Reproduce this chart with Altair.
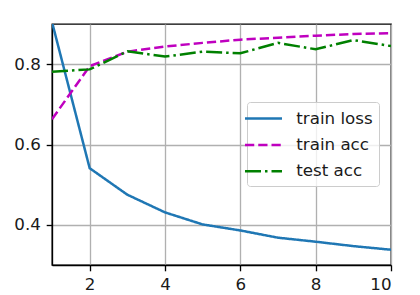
import altair as alt
import pandas as pd

epochs = [1, 2, 3, 4, 5, 6, 7, 8, 9, 10]
train_loss = [0.905, 0.541, 0.475, 0.431, 0.401, 0.386, 0.368, 0.358, 0.347, 0.338]
train_acc = [0.663, 0.795, 0.831, 0.844, 0.853, 0.861, 0.866, 0.871, 0.875, 0.877]
test_acc = [0.781, 0.787, 0.832, 0.819, 0.831, 0.827, 0.853, 0.837, 0.860, 0.845]

series_names = ["train loss", "train acc", "test acc"]
series_colors = ["#1f77b4", "#bf00bf", "#008000"]
series_dashes = [[1, 0], [9.25, 4], [16, 4, 2.5, 4]]
x_ticks = [2, 4, 6, 8, 10]
y_ticks = [0.4, 0.6, 0.8]

rows = []
for name, vals in zip(series_names, [train_loss, train_acc, test_acc]):
    for e, v in zip(epochs, vals):
        rows.append({"epoch": e, "value": v, "series": name})
df = pd.DataFrame(rows)

chart = alt.Chart(df).mark_line(clip=True, strokeWidth=2.5).encode(
    x=alt.X("epoch:Q", scale=alt.Scale(domain=[1, 10], nice=False, zero=False),
            axis=alt.Axis(values=x_ticks, title=None, format="d")),
    y=alt.Y("value:Q", scale=alt.Scale(domain=[0.3, 0.9], nice=False, zero=False),
            axis=alt.Axis(values=y_ticks, title=None, format=".1f")),
    color=alt.Color("series:N", scale=alt.Scale(domain=series_names, range=series_colors),
                    legend=alt.Legend(title=None, orient="none", legendX=195, legendY=78)),
    strokeDash=alt.StrokeDash("series:N", scale=alt.Scale(domain=series_names, range=series_dashes),
                              legend=alt.Legend(title=None, orient="none", legendX=195, legendY=78)),
    order="epoch:Q",
).properties(
    width=339, height=241,
    autosize=alt.AutoSizeParams(type="none"),
    padding={"left": 52, "top": 24, "right": 29, "bottom": 30},
    background="white",
).configure_view(
    stroke="black", strokeWidth=1.33
).configure_axis(
    domainColor="black", domainWidth=1.33,
    tickColor="black", tickWidth=1.33, tickSize=5.8,
    labelPadding=5.8, labelFont="DejaVu Sans", labelFontSize=16.7, labelColor="#1a1a1a",
    grid=True, gridColor="#b0b0b0", gridWidth=1.33,
).configure_legend(
    labelFont="DejaVu Sans", labelFontSize=16.7, labelColor="#1a1a1a",
    symbolType="M-2,0H2", symbolSize=342, symbolStrokeWidth=2.5,
    labelOffset=22.25, rowPadding=6.4, padding=6,
    strokeColor="#cccccc", fillColor="rgba(255,255,255,0.8)", cornerRadius=3,
    labelLimit=300,
)

chart.save("out.html", embed_options={"renderer": "svg", "actions": False})
